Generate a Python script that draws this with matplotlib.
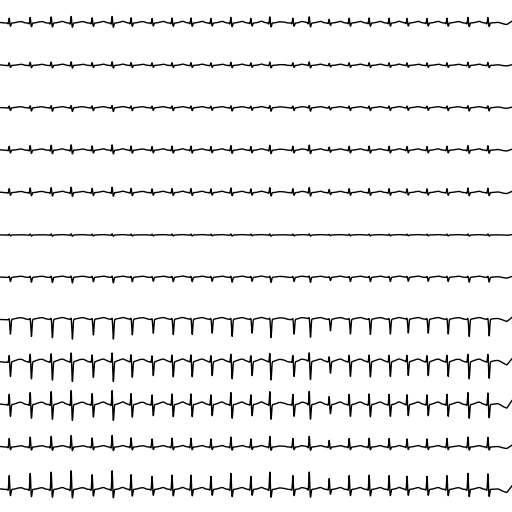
import numpy as np
import matplotlib
matplotlib.use("Agg")
import matplotlib.pyplot as plt

# beat (R peak) times in seconds (10 s across)
beat_times = [0.18, 0.59, 1.00, 1.39, 1.80, 2.19, 2.56, 2.97, 3.36, 3.73,
              4.12, 4.51, 4.90, 5.27, 5.72, 6.04, 6.43, 6.82, 7.21, 7.60,
              7.95, 8.34, 8.73, 9.14, 9.53]
# beat to beat size of the QRS
beat_scale = [0.91, 1.06, 1.14, 1.23, 0.97, 1.23, 0.97, 0.86, 0.94, 0.94,
              0.86, 1.06, 0.86, 1.14, 0.91, 1.14, 0.71, 0.91, 0.94, 0.91,
              0.86, 0.86, 0.91, 1.06, 1.03]

leads = ['I', 'II', 'III', 'aVR', 'aVL', 'aVF', 'V1', 'V2', 'V3', 'V4', 'V5', 'V6']
# wave amplitudes per lead (mV)
p_amp = [0.05, 0.05, 0.02, 0.04, 0.04, 0.01, 0.03, 0.03, 0.04, 0.05, 0.05, 0.05]
q_amp = [-0.10, -0.05, -0.05, -0.08, -0.08, -0.03, 0.0, 0.0, -0.05, -0.10, -0.10, -0.12]
r_amp = [0.55, 0.30, 0.20, 0.45, 0.45, 0.10, 0.12, 0.15, 0.80, 1.20, 0.95, 1.55]
s_amp = [-0.35, -0.22, -0.30, -0.30, -0.30, -0.10, -0.45, -1.60, -1.60, -1.30, -0.30, -0.70]
t_amp = [0.12, 0.08, 0.10, 0.10, 0.10, 0.03, 0.10, 0.20, 0.28, 0.22, 0.10, 0.15]
t_width = [0.055, 0.055, 0.06, 0.055, 0.055, 0.06, 0.07, 0.09, 0.08, 0.06, 0.055, 0.055]
# slow swing at the very end of each strip
tail_amp = [0.15, 0.05, 0.05, 0.08, 0.10, 0.03, 0.08, 0.20, 0.30, 0.35, 0.15, 0.30]

fs = 500
duration = 10.0
t = np.arange(0, duration, 1 / fs)


def bump(x, centre, width):
    return np.exp(-0.5 * ((x - centre) / width) ** 2)


def make_lead(i):
    sig = np.zeros_like(t)
    for bt, sc in zip(beat_times, beat_scale):
        sig += p_amp[i] * bump(t, bt - 0.16, 0.025)
        sig += q_amp[i] * sc * bump(t, bt - 0.022, 0.007)
        sig += r_amp[i] * sc * bump(t, bt, 0.008)
        sig += s_amp[i] * sc * bump(t, bt + 0.024, 0.010)
        sig += t_amp[i] * bump(t, bt + 0.20, t_width[i])
    # edge swing after the last beat
    down = (t > 9.62) & (t <= 9.90)
    sig[down] -= tail_amp[i] * (t[down] - 9.62) / 0.28
    up = t > 9.90
    sig[up] += -tail_amp[i] + 2.2 * tail_amp[i] * (t[up] - 9.90) / 0.10
    return sig


fig = plt.figure(figsize=(5.12, 5.12), dpi=100)
ax = fig.add_axes([0, 0, 1, 1])

# 1 mV = 1 unit, rows 4.24 units apart
row_gap = 4.24
for i, name in enumerate(leads):
    base = 2.3 + i * row_gap
    ax.plot(t, base - make_lead(i), color='black', linewidth=1.0)

ax.set_xlim(0, duration)
ax.set_ylim(51.2, 0)
ax.axis('off')

fig.savefig('out.png', dpi=100, facecolor='white')
